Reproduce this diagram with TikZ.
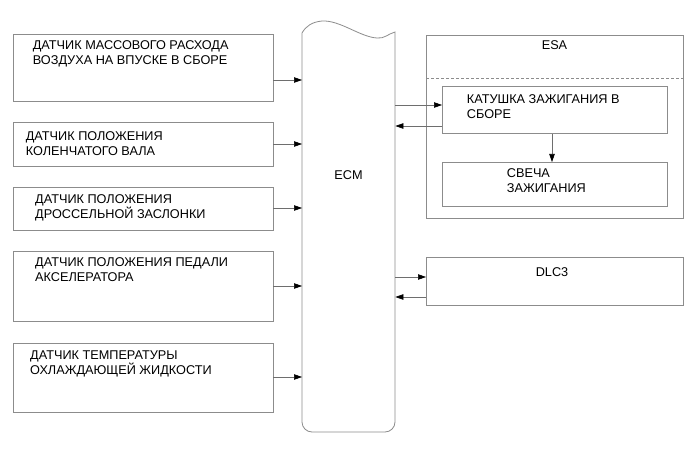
\documentclass[tikz,border=0pt]{standalone}
\usepackage{fontspec}
\setmainfont{Liberation Sans}
\usetikzlibrary{arrows.meta,calc}
\definecolor{edge}{HTML}{8C8C8C}
\definecolor{wire}{HTML}{6E6E6E}
\begin{document}
\begin{tikzpicture}[x=1pt,y=-1pt,
  box/.style={draw=edge,line width=0.8pt,rectangle,inner sep=0pt,anchor=north west},
  lbl/.style={anchor=base west,inner sep=0pt,font=\fontsize{12.7}{15}\selectfont},
  clbl/.style={anchor=base,inner sep=0pt,font=\fontsize{12.7}{15}\selectfont},
  arr/.style={draw=wire,line width=0.6pt,-{Triangle[length=8pt,width=5.5pt,fill=black,color=black]}}]
\useasboundingbox (0,0) rectangle (691,465);
% left boxes
\node[box,minimum width=260pt,minimum height=67pt] (b1) at (12.5,34) {};
\node[box,minimum width=260pt,minimum height=44pt] (b2) at (12.5,122) {};
\node[box,minimum width=260pt,minimum height=43pt] (b3) at (12.5,187) {};
\node[box,minimum width=260pt,minimum height=70pt] (b4) at (12.5,251) {};
\node[box,minimum width=260pt,minimum height=69pt] (b5) at (12.5,343) {};
\node[lbl] (t1a) at (32.7,50) {ДАТЧИК МАССОВОГО РАСХОДА};
\node[lbl] (t1b) at (32.7,65) {ВОЗДУХА НА ВПУСКЕ В СБОРЕ};
\node[lbl] (t2a) at (25.7,140.5) {ДАТЧИК ПОЛОЖЕНИЯ};
\node[lbl] (t2b) at (25.7,155.5) {КОЛЕНЧАТОГО ВАЛА};
\node[lbl] (t3a) at (35,203.3) {ДАТЧИК ПОЛОЖЕНИЯ};
\node[lbl] (t3b) at (35,218.3) {ДРОССЕЛЬНОЙ ЗАСЛОНКИ};
\node[lbl] (t4a) at (35,267) {ДАТЧИК ПОЛОЖЕНИЯ ПЕДАЛИ};
\node[lbl] (t4b) at (35,282) {АКСЕЛЕРАТОРА};
\node[lbl] (t5a) at (30,359) {ДАТЧИК ТЕМПЕРАТУРЫ};
\node[lbl] (t5b) at (30,374) {ОХЛАЖДАЮЩЕЙ ЖИДКОСТИ};
% ECM
\node[inner sep=0pt,minimum width=93pt,minimum height=399pt,anchor=north west] (ecm) at (302,33) {};
\draw[edge,line width=0.8pt] (302,33) -- (302,422) arc[start angle=180,end angle=90,x radius=10pt,y radius=-10pt] -- (385,432)
  arc[start angle=90,end angle=0,x radius=10pt,y radius=-10pt] -- (395,32)
  .. controls (388,34) and (384,39) .. (377,38)
  .. controls (360,37) and (340,20) .. (322,21)
  .. controls (312,22) and (306,26) .. (302,33);
\node[clbl] (ecml) at (348.5,179.5) {ECM};
% ESA
\node[box,minimum width=257pt,minimum height=183pt] (esa) at (426,35) {};
\node[clbl] (esal) at (554.5,49.5) {ESA};
\draw[edge,line width=0.6pt,dash pattern=on 3pt off 2pt] (esa.west |- 0,78) coordinate (dl) -- (esa.east |- 0,78) coordinate (dr);
\node[box,minimum width=225pt,minimum height=47pt] (coil) at (442,86) {};
\node[lbl] (c1) at (466.7,103.3) {КАТУШКА ЗАЖИГАНИЯ В};
\node[lbl] (c2) at (466.7,118.3) {СБОРЕ};
\node[box,minimum width=225pt,minimum height=44pt] (plug) at (442,162) {};
\node[lbl] (p1) at (506.7,177.3) {СВЕЧА};
\node[lbl] (p2) at (506.7,192.3) {ЗАЖИГАНИЯ};
% DLC3
\node[box,minimum width=257pt,minimum height=48pt] (dlc) at (426,257) {};
\node[clbl] (dlcl) at (552,276.5) {DLC3};
% connectors
\draw[arr] (b1.east |- 0,80) -- (ecm.west |- 0,80);
\draw[arr] (b2.east |- 0,144) -- (ecm.west |- 0,144);
\draw[arr] (b3.east |- 0,208) -- (ecm.west |- 0,208);
\draw[arr] (b4.east |- 0,286) -- (ecm.west |- 0,286);
\draw[arr] (b5.east |- 0,377) -- (ecm.west |- 0,377);
\draw[arr] (ecm.east |- 0,105) -- (coil.west |- 0,105);
\draw[arr] (coil.west |- 0,126) -- (ecm.east |- 0,126);
\draw[arr] (coil.south -| 552,0) -- (plug.north -| 552,0);
\draw[arr] (ecm.east |- 0,277) -- (dlc.west |- 0,277);
\draw[arr] (dlc.west |- 0,297) -- (ecm.east |- 0,297);
\end{tikzpicture}
\end{document}
